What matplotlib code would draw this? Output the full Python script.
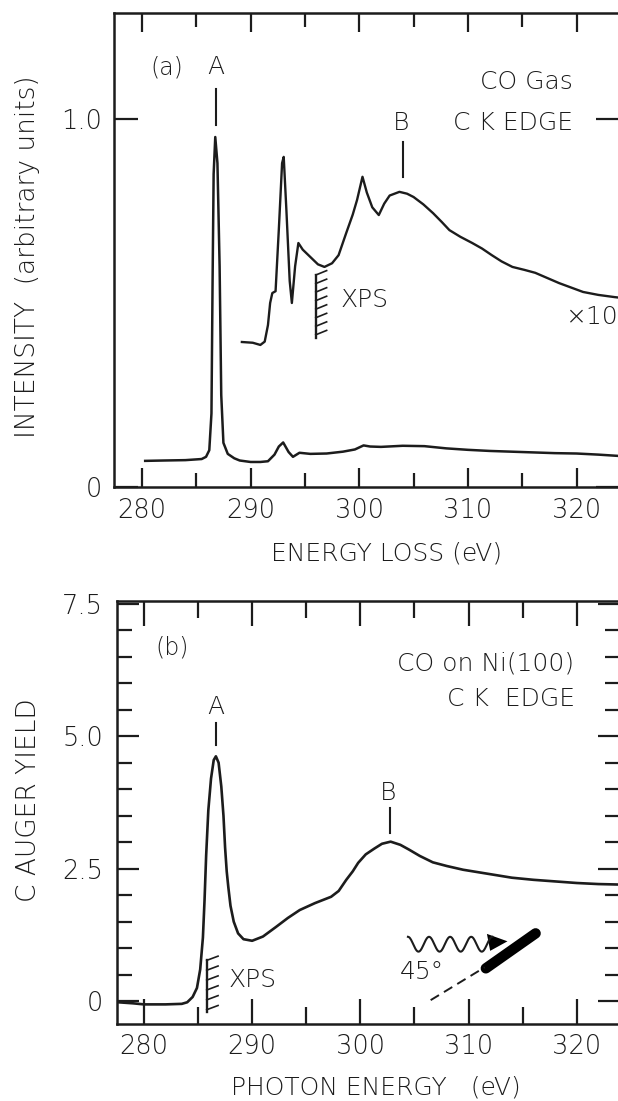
import numpy as np
import matplotlib
matplotlib.use("Agg")
import matplotlib.pyplot as plt
from matplotlib.ticker import FixedLocator, MultipleLocator

# ---------------- data ----------------
# (a) CO gas, C K edge, electron energy loss
gas_energy = [280.3, 282.0, 284.0, 285.5, 285.9, 286.2, 286.4, 286.5, 286.6, 286.75,
              286.95, 287.15, 287.3, 287.5, 287.9, 288.5, 289.0, 290.0, 290.9, 291.6,
              292.2, 292.6, 293.0, 293.5, 293.9, 294.5, 295.5, 297.0, 298.5, 299.6,
              300.4, 301.0, 302.0, 304.0, 306.0, 308.0, 310.0, 312.0, 314.0, 316.0,
              318.0, 320.0, 322.0, 324.1]
gas_intensity = [0.071, 0.072, 0.073, 0.076, 0.082, 0.10, 0.20, 0.55, 0.85, 0.951,
                 0.88, 0.60, 0.25, 0.12, 0.090, 0.078, 0.072, 0.068, 0.068, 0.070,
                 0.088, 0.110, 0.121, 0.095, 0.082, 0.093, 0.090, 0.091, 0.096, 0.102,
                 0.113, 0.110, 0.109, 0.112, 0.111, 0.105, 0.101, 0.098, 0.096, 0.094,
                 0.092, 0.091, 0.088, 0.084]

# same spectrum magnified x10 (offset trace)
gas10_energy = [289.2, 290.2, 290.9, 291.3, 291.6, 291.8, 292.0, 292.3, 292.6, 292.9,
                293.05, 293.3, 293.6, 293.8, 294.1, 294.4, 294.8, 295.5, 296.2, 296.8,
                297.5, 298.1, 298.8, 299.4, 299.8, 300.3, 300.7, 301.2, 301.8, 302.3,
                302.8, 303.7, 304.4, 305.0, 305.9, 306.8, 307.6, 308.3, 309.3, 310.4,
                311.3, 312.2, 313.1, 314.1, 315.2, 316.2, 317.3, 318.4, 319.5, 320.6,
                322.0, 323.5, 324.1]
gas10_intensity = [0.394, 0.392, 0.386, 0.395, 0.44, 0.50, 0.527, 0.532, 0.70, 0.88,
                   0.897, 0.75, 0.56, 0.50, 0.60, 0.663, 0.645, 0.625, 0.605, 0.598,
                   0.608, 0.630, 0.690, 0.740, 0.78, 0.843, 0.80, 0.76, 0.739, 0.77,
                   0.792, 0.802, 0.797, 0.788, 0.768, 0.744, 0.72, 0.698, 0.680, 0.663,
                   0.648, 0.630, 0.613, 0.598, 0.590, 0.582, 0.568, 0.554, 0.542, 0.530,
                   0.522, 0.516, 0.514]

# (b) CO on Ni(100), C KVV Auger yield
ads_energy = [277.6, 279.0, 280.0, 282.0, 283.5, 284.0, 284.5, 284.9, 285.2, 285.45,
              285.6, 285.75, 285.95, 286.2, 286.45, 286.65, 286.9, 287.15, 287.35, 287.5,
              287.65, 287.8, 288.0, 288.3, 288.7, 289.2, 290.0, 291.0, 292.2, 293.3,
              294.4, 295.8, 297.3, 298.0, 298.7, 299.3, 299.8, 300.5, 301.3, 302.0,
              302.8, 303.7, 304.5, 305.5, 306.7, 308.0, 309.5, 311.0, 312.5, 314.0,
              316.0, 318.0, 320.0, 322.0, 324.1]
ads_yield = [-0.02, -0.04, -0.06, -0.06, -0.05, -0.02, 0.08, 0.25, 0.60, 1.20,
             1.90, 2.75, 3.60, 4.20, 4.55, 4.62, 4.50, 4.05, 3.50, 2.90,
             2.45, 2.15, 1.80, 1.50, 1.28, 1.17, 1.14, 1.22, 1.40, 1.57,
             1.72, 1.85, 1.97, 2.08, 2.29, 2.45, 2.61, 2.77, 2.88, 2.97,
             3.01, 2.95, 2.86, 2.74, 2.62, 2.55, 2.48, 2.43, 2.38, 2.33,
             2.29, 2.26, 2.23, 2.21, 2.20]

x_major = [280, 290, 300, 310, 320]
x_minor = [285, 295, 305, 315]
x_labels = ["280", "290", "300", "310", "320"]
top_y_ticks = [0, 1.0]
top_y_labels = ["0", "1.0"]
bot_y_ticks = [0, 2.5, 5.0, 7.5]
bot_y_labels = ["0", "2.5", "5.0", "7.5"]

# ---------------- style ----------------
INK = "#1c1c1c"
plt.rcParams["font.family"] = ["DejaVu Sans"]
plt.rcParams["font.weight"] = "light"
FS_TICK = 18.5
FS_TXT = 18

W, H = 618, 1101
fig = plt.figure(figsize=(W / 100, H / 100), dpi=100)


def frac_box(left, top, right, bottom):
    return [left / W, 1 - bottom / H, (right - left) / W, (bottom - top) / H]


def style_axes(ax, maj_len, min_len, ymaj_len, ymin_len, pad_x, pad_y):
    for s in ax.spines.values():
        s.set_color(INK)
        s.set_linewidth(1.8)
    ax.xaxis.set_major_locator(FixedLocator(x_major))
    ax.xaxis.set_minor_locator(FixedLocator(x_minor))
    ax.set_xticklabels(x_labels)
    ax.tick_params(axis="x", which="major", direction="in", top=True, bottom=True,
                   length=maj_len, width=1.6, color=INK, pad=pad_x,
                   labelsize=FS_TICK, labelcolor=INK)
    ax.tick_params(axis="x", which="minor", direction="in", top=True, bottom=True,
                   length=min_len, width=1.6, color=INK)
    ax.tick_params(axis="y", which="major", direction="in", left=True, right=True,
                   length=ymaj_len, width=1.6, color=INK, pad=pad_y,
                   labelsize=FS_TICK, labelcolor=INK)
    ax.tick_params(axis="y", which="minor", direction="in", left=True, right=True,
                   length=ymin_len, width=1.6, color=INK)


def edge_marker(ax, x, y0, y1, n, dx, dy):
    ax.plot([x, x], [y0, y1], color=INK, lw=1.7)
    for yy in np.linspace(y0 + (y1 - y0) * 0.05, y1, n):
        ax.plot([x, x + dx], [yy, yy + dy], color=INK, lw=1.2)


# ---------------- (a) ----------------
ax1 = fig.add_axes(frac_box(114, 13, 620, 487))
ax1.set_xlim(277.43, 324.0)
ax1.set_ylim(0, 1.288)
style_axes(ax1, 14, 10, 17, 0, 8, 9)
ax1.set_yticks(top_y_ticks)
ax1.set_yticklabels(top_y_labels)

ax1.plot(gas_energy, gas_intensity, color=INK, lw=1.8)
ax1.plot(gas10_energy, gas10_intensity, color=INK, lw=1.7)

ax1.text(282.3, 1.141, "(a)", ha="center", va="center", fontsize=FS_TXT - 1, color=INK)
ax1.text(286.8, 1.141, "A", ha="center", va="center", fontsize=FS_TXT, color=INK)
ax1.plot([286.8, 286.8], [0.984, 1.082], color=INK, lw=1.5)
ax1.text(303.9, 0.989, "B", ha="center", va="center", fontsize=FS_TXT, color=INK)
ax1.plot([304.0, 304.0], [0.842, 0.9375], color=INK, lw=1.5)
ax1.text(319.7, 1.10, "CO Gas", ha="right", va="center", fontsize=FS_TXT, color=INK)
ax1.text(319.7, 0.989, "C K EDGE", ha="right", va="center", fontsize=FS_TXT, color=INK)
edge_marker(ax1, 296.0, 0.405, 0.576, 8, 1.0, 0.012)
ax1.text(298.3, 0.508, "XPS", ha="left", va="center", fontsize=FS_TXT, color=INK)
ax1.text(319.0, 0.462, "×10", ha="left", va="center", fontsize=FS_TXT, color=INK)

fig.text(387 / W, 1 - 553 / H, "ENERGY LOSS (eV)", ha="center", va="center",
         fontsize=FS_TXT, color=INK)
fig.text(28 / W, 1 - 257 / H, "INTENSITY  (arbitrary units)", ha="center", va="center",
         rotation=90, fontsize=FS_TXT + 1, color=INK)

# ---------------- (b) ----------------
ax2 = fig.add_axes(frac_box(117, 601, 620, 1024))
ax2.set_xlim(277.51, 324.0)
ax2.set_ylim(-0.43, 7.55)
style_axes(ax2, 18, 12, 16, 11, 7, 10)
ax2.set_yticks(bot_y_ticks)
ax2.set_yticklabels(bot_y_labels)
ax2.yaxis.set_minor_locator(MultipleLocator(0.5))

ax2.plot(ads_energy, ads_yield, color=INK, lw=1.9)

ax2.text(282.6, 6.68, "(b)", ha="center", va="center", fontsize=FS_TXT - 1, color=INK)
ax2.text(286.65, 5.55, "A", ha="center", va="center", fontsize=FS_TXT, color=INK)
ax2.plot([286.65, 286.65], [4.83, 5.25], color=INK, lw=1.5)
ax2.text(302.6, 3.92, "B", ha="center", va="center", fontsize=FS_TXT, color=INK)
ax2.plot([302.7, 302.7], [3.17, 3.64], color=INK, lw=1.5)
ax2.text(319.8, 6.38, "CO on Ni(100)", ha="right", va="center", fontsize=FS_TXT, color=INK)
ax2.text(319.8, 5.70, "C K  EDGE", ha="right", va="center", fontsize=FS_TXT, color=INK)
edge_marker(ax2, 285.8, -0.21, 0.77, 6, 1.05, 0.08)
ax2.text(287.8, 0.40, "XPS", ha="left", va="center", fontsize=FS_TXT, color=INK)

# incident photon (wavy arrow) hitting the tilted sample at 45 degrees
wx = np.linspace(304.4, 312.2, 240)
wy = 1.075 + 0.14 * np.sin((wx - 304.4) / 1.95 * 2 * np.pi + np.pi / 2)
ax2.plot(wx, wy, color=INK, lw=1.5)
ax2.fill([313.6, 311.7, 312.0], [1.13, 1.27, 0.95], color="black", lw=0)
ax2.plot([311.6, 316.2], [0.62, 1.28], color="black", lw=7.5, solid_capstyle="round")
ax2.plot([306.5, 311.5], [0.02, 0.64], color=INK, lw=1.4, dashes=(5, 3))
ax2.text(305.7, 0.55, "45°", ha="center", va="center", fontsize=FS_TXT, color=INK)

fig.text(376 / W, 1 - 1088 / H, "PHOTON ENERGY   (eV)", ha="center", va="center",
         fontsize=FS_TXT, color=INK)
fig.text(28 / W, 1 - 800 / H, "C AUGER YIELD", ha="center", va="center",
         rotation=90, fontsize=FS_TXT + 1, color=INK)

fig.savefig("out.png", dpi=100)
